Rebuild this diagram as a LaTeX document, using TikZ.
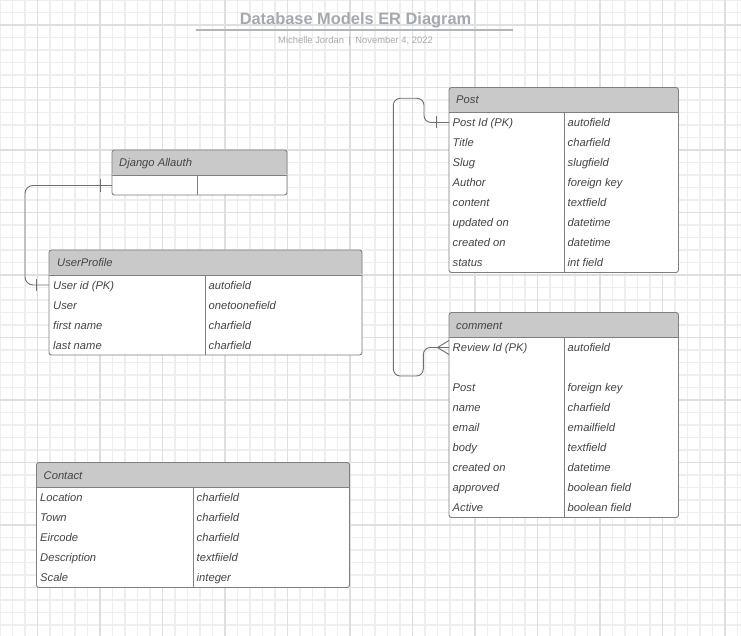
\documentclass[tikz,border=0pt]{standalone}
\usepackage{fontspec}
\setmainfont{Liberation Sans}
\definecolor{gridminor}{HTML}{EEEEEE}
\definecolor{gridmajor}{HTML}{DFDFDF}
\definecolor{border}{HTML}{7F7F7F}
\definecolor{hdrfill}{HTML}{C9C9C9}
\definecolor{txt}{HTML}{444444}
\definecolor{connc}{HTML}{6F6F6F}
\definecolor{titlec}{HTML}{A4A8B0}
\definecolor{subc}{HTML}{A9A9A9}
\begin{document}
\begin{tikzpicture}[x=1pt,y=-1pt,
  tbl/.style={draw=border, line width=0.9pt, rounded corners=2.5pt, fill=white, outer sep=0pt, inner sep=0pt, anchor=north west,
    path picture={\fill[hdrfill] (path picture bounding box.north west) rectangle ([yshift=-25pt]path picture bounding box.north east);}},
  tblline/.style={draw=border, line width=0.9pt},
  cell/.style={anchor=base west, inner sep=0pt, font=\itshape\fontsize{11.2}{13}\selectfont, text=txt},
  hdrtext/.style={anchor=base west, inner sep=0pt, font=\itshape\fontsize{11.2}{13}\selectfont, text=txt},
  conn/.style={draw=connc, line width=0.9pt}
]
\useasboundingbox (0,0) rectangle (741,636);
\fill[white] (0,0) rectangle (741,636);
% grid
\foreach \x in {0,12.5,...,741} \draw[gridminor, line width=1.1pt] (\x,0) -- (\x,636);
\foreach \y in {0,12.5,...,636} \draw[gridminor, line width=1.1pt] (0,\y) -- (741,\y);
\foreach \x in {37.5,100,...,741} \draw[gridmajor, line width=1.3pt] (\x,0) -- (\x,636);
\foreach \y in {25,87.5,...,636} \draw[gridmajor, line width=1.3pt] (0,\y) -- (741,\y);

% title
\node[anchor=base, inner sep=0pt, font=\bfseries\fontsize{16.4}{18}\selectfont, text=titlec] (title) at (355.5,25) {Database Models ER Diagram};
\draw[draw=titlec!85, line width=1.5pt] (196,30) -- (513,30);
\node[anchor=base, inner sep=0pt, font=\fontsize{9.4}{11}\selectfont, text=subc] (subtitle) at (355.5,43.5) {Michelle Jordan\hspace{4.5pt}|\hspace{4.5pt}November 4, 2022};

% Django Allauth
\node[tbl, minimum width=175pt, minimum height=45pt] (django) at (112,150) {};
\draw[tblline] ([yshift=-25pt]django.north west) -- ([yshift=-25pt]django.north east);
\draw[tblline] ([xshift=85pt,yshift=-25pt]django.north west) -- ([xshift=85pt]django.south west);
\node[hdrtext] (djangoh) at ([xshift=7pt,yshift=-16.5pt]django.north west) {Django Allauth};

% UserProfile
\node[tbl, minimum width=313pt, minimum height=105pt] (userprofile) at (49,250) {};
\draw[tblline] ([yshift=-25pt]userprofile.north west) -- ([yshift=-25pt]userprofile.north east);
\draw[tblline] ([xshift=156.5pt,yshift=-25pt]userprofile.north west) -- ([xshift=156.5pt]userprofile.south west);
\node[hdrtext] (userprofileh) at ([xshift=8pt,yshift=-16.5pt]userprofile.north west) {UserProfile};
\foreach \i/\a/\b in {0/User id (PK)/autofield,1/User/onetoonefield,2/first name/charfield,3/last name/charfield}{
  \node[cell] (upl\i) at (53,289+20*\i) {\a};
  \node[cell] (upr\i) at (208.5,289+20*\i) {\b};
}

% Post
\node[tbl, minimum width=229.5pt, minimum height=185pt] (post) at (449,87.5) {};
\draw[tblline] ([yshift=-25pt]post.north west) -- ([yshift=-25pt]post.north east);
\draw[tblline] ([xshift=115.5pt,yshift=-25pt]post.north west) -- ([xshift=115.5pt]post.south west);
\node[hdrtext] (posth) at ([xshift=7pt,yshift=-16.5pt]post.north west) {Post};
\foreach \i/\a/\b in {0/Post Id (PK)/autofield,1/Title/charfield,2/Slug/slugfield,3/Author/foreign key,4/content/textfield,5/updated on/datetime,6/created on/datetime,7/status/int field}{
  \node[cell] (postl\i) at (452.5,126.5+20*\i) {\a};
  \node[cell] (postr\i) at (567.5,126.5+20*\i) {\b};
}

% comment
\node[tbl, minimum width=229.5pt, minimum height=205pt] (comment) at (449,312.5) {};
\draw[tblline] ([yshift=-25pt]comment.north west) -- ([yshift=-25pt]comment.north east);
\draw[tblline] ([xshift=115.5pt,yshift=-25pt]comment.north west) -- ([xshift=115.5pt]comment.south west);
\node[hdrtext] (commenth) at ([xshift=7pt,yshift=-16.5pt]comment.north west) {comment};
\foreach \i/\a/\b in {0/Review Id (PK)/autofield,2/Post/foreign key,3/name/charfield,4/email/emailfield,5/body/textfield,6/created on/datetime,7/approved/boolean field,8/Active/boolean field}{
  \node[cell] (coml\i) at (452.5,351.5+20*\i) {\a};
  \node[cell] (comr\i) at (567.5,351.5+20*\i) {\b};
}

% Contact
\node[tbl, minimum width=313pt, minimum height=125pt] (contact) at (36.5,462.5) {};
\draw[tblline] ([yshift=-25pt]contact.north west) -- ([yshift=-25pt]contact.north east);
\draw[tblline] ([xshift=157pt,yshift=-25pt]contact.north west) -- ([xshift=157pt]contact.south west);
\node[hdrtext] (contacth) at ([xshift=7pt,yshift=-16.5pt]contact.north west) {Contact};
\foreach \i/\a/\b in {0/Location/charfield,1/Town/charfield,2/Eircode/charfield,3/Description/textfiield,4/Scale/integer}{
  \node[cell] (conl\i) at (40,501.5+20*\i) {\a};
  \node[cell] (conr\i) at (196.5,501.5+20*\i) {\b};
}

% connector Django Allauth -- UserProfile
\coordinate (djend) at ([yshift=-35.5pt]django.north west);
\coordinate (upend) at ([yshift=-35pt]userprofile.north west);
\draw[conn, rounded corners=8pt] (djend) -- (25,185.5) -- (25,285) -- (upend);
\draw[conn] ([xshift=-12pt,yshift=6.5pt]djend) -- ([xshift=-12pt,yshift=-6.5pt]djend);
\draw[conn] ([xshift=-13pt,yshift=6pt]upend) -- ([xshift=-13pt,yshift=-6pt]upend);

% connector Post -- comment
\coordinate (pend) at ([yshift=-35pt]post.north west);
\coordinate (cend) at ([yshift=-35pt]comment.north west);
\draw[conn, rounded corners=7pt] (pend) -- (424,122.5) -- (424,98.3) -- (393.3,98.3) -- (393.3,376) -- (423.3,376) -- (423.3,347.5) -- (cend);
\draw[conn] ([xshift=-13pt,yshift=6pt]pend) -- ([xshift=-13pt,yshift=-6pt]pend);
\draw[conn] ([xshift=-11.5pt]cend) -- ([yshift=7pt]cend);
\draw[conn] ([xshift=-11.5pt]cend) -- ([yshift=-7pt]cend);
\end{tikzpicture}
\end{document}
